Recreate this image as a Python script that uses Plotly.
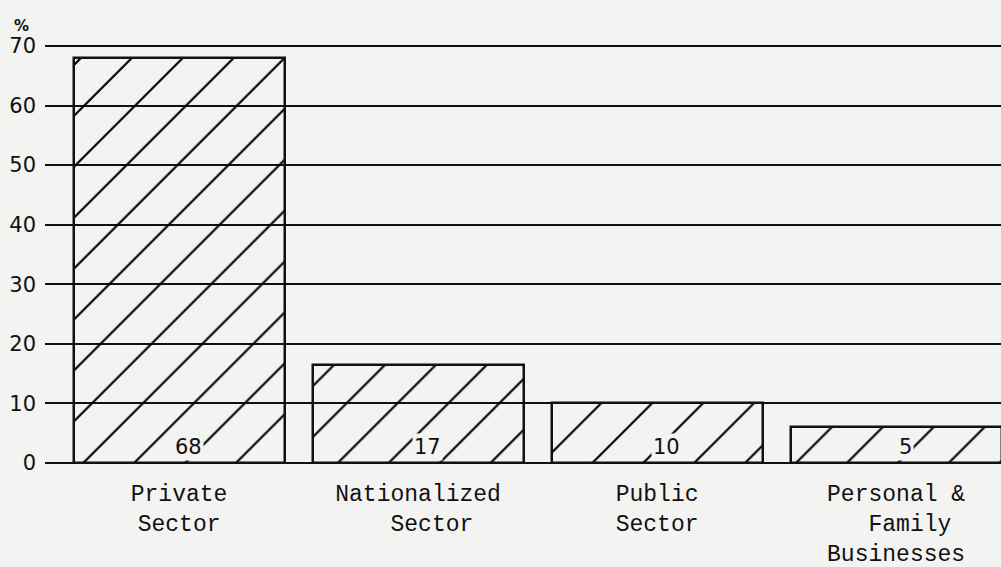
import plotly.graph_objects as go

# bar chart of shares by sector, hatched bars like the scanned original
categories = ["Private<br>Sector", "Nationalized<br>  Sector", "Public<br>Sector",
              "Personal &<br>  Family<br>Businesses"]
heights = [68, 16.5, 10, 6]
value_labels = ["68", "17", "10", "5"]
positions = [0, 1, 2, 3]
y_ticks = [0, 10, 20, 30, 40, 50, 60, 70]

bg = "#f3f3f1"
ink = "#111"
mono = "Liberation Mono"
sans = "DejaVu Sans"

fig = go.Figure()
fig.add_trace(go.Bar(
    x=positions, y=heights, width=0.883,
    marker=dict(color="rgba(0,0,0,0)",
                line=dict(color=ink, width=2.5),
                pattern=dict(shape="/", fgcolor="black", bgcolor="rgba(0,0,0,0)",
                             fgopacity=1, size=36, solidity=0.06)),
    showlegend=False, hoverinfo="skip"))

# value labels sitting at the base of each bar
for p, t in zip(positions, value_labels):
    fig.add_annotation(x=p, y=0, text=t, showarrow=False, yanchor="bottom",
                       yshift=2, xshift=9, bgcolor=bg, borderpad=1,
                       font=dict(family=sans, size=21, color=ink))

fig.add_annotation(x=-0.034, y=1.066, xref="paper", yref="paper", text="<b>%</b>",
                   showarrow=False, font=dict(family=sans, size=15, color=ink))

fig.update_xaxes(range=[-0.561, 3.439], tickvals=positions, ticktext=categories,
                 showgrid=False, zeroline=False, showline=False, ticks="",
                 ticklabelstandoff=11,
                 tickfont=dict(family=mono, size=23, color=ink))
fig.update_yaxes(range=[-0.5, 70.5], tickvals=y_ticks, showgrid=True,
                 gridcolor=ink, gridwidth=2, zeroline=False, showline=False,
                 ticks="", ticklabelstandoff=8,
                 tickfont=dict(family=sans, size=21, color=ink))
fig.update_layout(width=1001, height=567, paper_bgcolor=bg, plot_bgcolor=bg,
                  margin=dict(l=45, r=0, t=43, b=101), bargap=0)
fig.write_html("out.html", config={"displayModeBar": False},
               post_script="document.body.style.margin='0';")
